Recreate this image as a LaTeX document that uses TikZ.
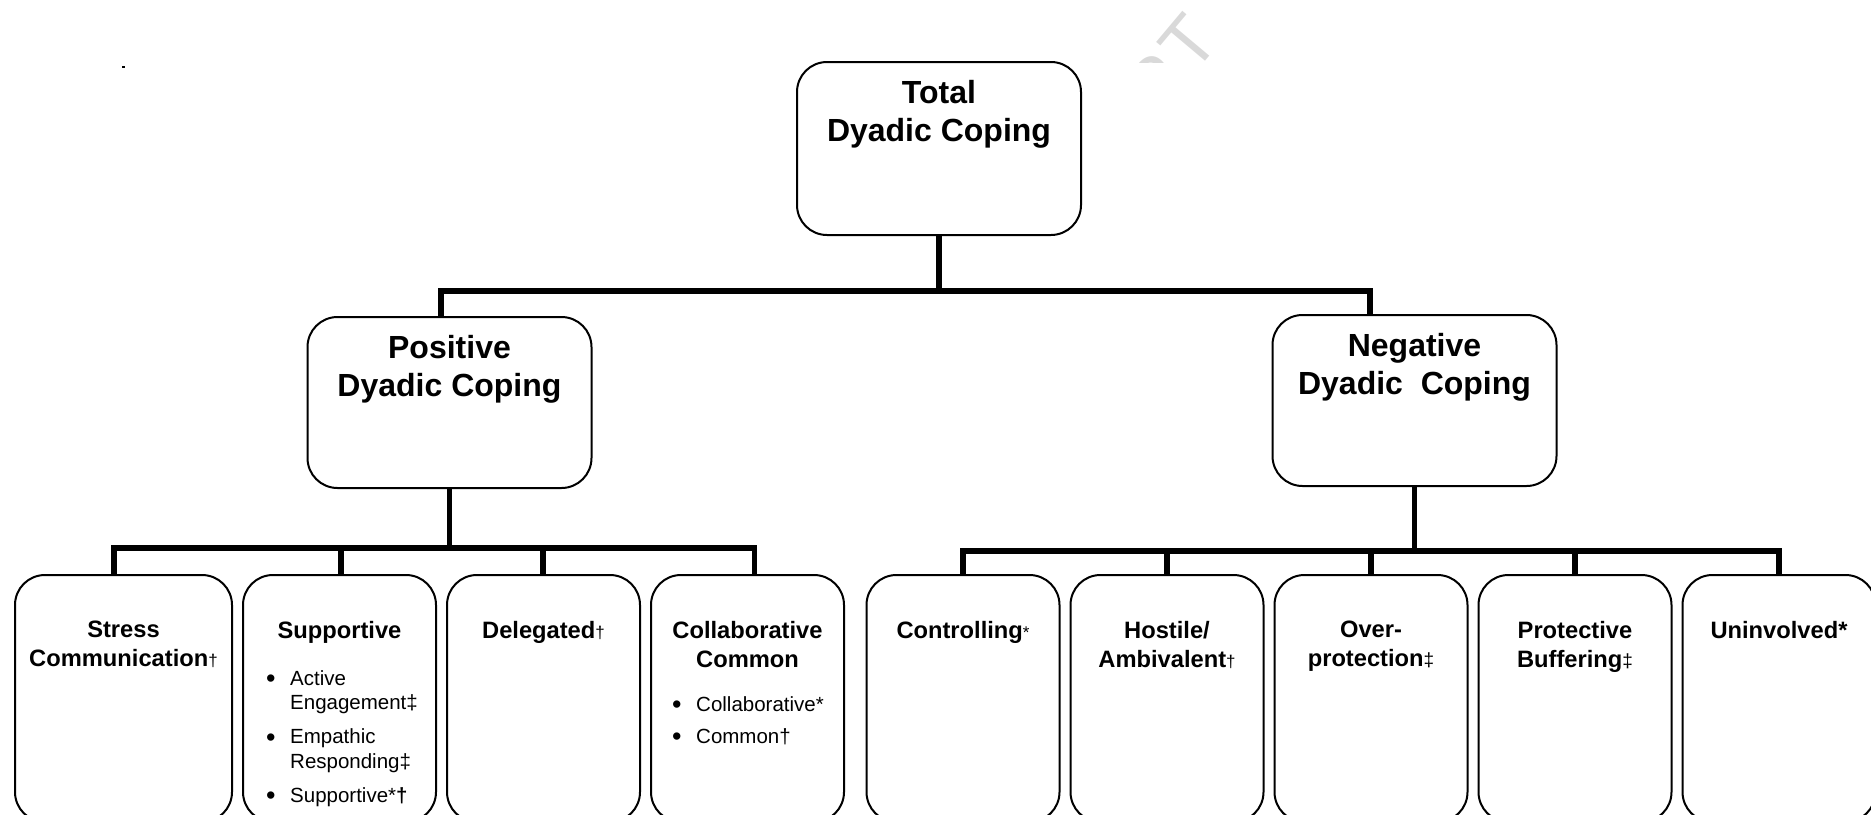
\documentclass[tikz,border=0pt]{standalone}
\usepackage{fontspec}
\setmainfont{Liberation Sans}
\usetikzlibrary{positioning}

\newcommand{\smalldag}{{\mdseries\fontsize{17}{17}\selectfont †}}
\newcommand{\smallddag}{{\mdseries\fontsize{19}{19}\selectfont ‡}}
\newcommand{\smallast}{{\mdseries\fontsize{17}{17}\selectfont *}}
\newcommand{\listdot}{\makebox[24pt][l]{\raisebox{-2.5pt}{\fontsize{27}{27}\selectfont •}}}
\newcommand{\listgap}{\hspace*{24pt}}

\begin{document}
\begin{tikzpicture}[x=1pt,y=-1pt,node distance=9pt,
  box node/.style={rectangle,draw,line width=2pt,rounded corners=30pt,
    minimum width=193pt,minimum height=247pt,inner sep=0pt},
  head node/.style={box node,minimum width=284pt,minimum height=171pt},
  head text/.style={font=\bfseries\fontsize{32}{38}\selectfont,align=center,inner sep=0pt},
  leaf text/.style={font=\bfseries\fontsize{23.7}{29}\selectfont,align=center,inner sep=0pt},
  list text/.style={font=\fontsize{20.5}{24.5}\selectfont,align=left,inner sep=0pt,anchor=north west},
  conn/.style={line width=5.5pt}]

  \useasboundingbox (0,0) rectangle (1871,814);
  \clip (0,0) rectangle (1871,814);

  \begin{scope}
    \clip (1080,0) rectangle (1300,62);
    \node[text=black!15,font=\fontsize{72}{72}\selectfont,rotate=50,
      anchor=base east,inner sep=0pt] (STAMP) at (1222,42) {P\kern5pt T};
  \end{scope}
  \fill (122,66) rectangle (124.5,67.5);

  \node[head node,minimum height=173pt] (TOTAL) at (939,148.5) {};
  \node[head node] (POS) at (449.5,402.5) {};
  \node[head node] (NEG) at (1414.5,400.5) {};

  \node[box node,minimum width=217pt] (STRESS) at (123.5,698.5) {};
  \node[box node,right=of STRESS] (SUPP) {};
  \node[box node,right=of SUPP] (DELEG) {};
  \node[box node,right=of DELEG] (COLLAB) {};
  \node[box node,right=20.5pt of COLLAB] (CTRL) {};
  \node[box node,right=of CTRL] (HOST) {};
  \node[box node,right=of HOST] (OVER) {};
  \node[box node,right=of OVER] (PROT) {};
  \node[box node,right=of PROT] (UNINV) {};

  \node[head text,below=19pt of TOTAL.north] (TOTALTXT) {Total\\Dyadic Coping};
  \node[head text,below=19pt of POS.north] (POSTXT) {Positive\\Dyadic Coping};
  \node[head text,below=19pt of NEG.north] (NEGTXT) {Negative\\Dyadic~~Coping};

  \node[leaf text,below=47pt of STRESS.north] (STRESSTXT) {Stress\\Communication\smalldag};
  \node[leaf text,below=47pt of SUPP.north] (SUPPTXT) {Supportive};
  \node[leaf text,below=47pt of DELEG.north] (DELEGTXT) {Delegated\smalldag};
  \node[leaf text,below=47pt of COLLAB.north] (COLLABTXT) {Collaborative\\Common};
  \node[leaf text,below=47pt of CTRL.north] (CTRLTXT) {Controlling\smallast};
  \node[leaf text,below=47pt of HOST.north] (HOSTTXT) {Hostile/\\Ambivalent\smalldag};
  \node[leaf text,below=47pt of OVER.north] (OVERTXT) {Over-\\protection\smallddag};
  \node[leaf text,below=47pt of PROT.north] (PROTTXT) {Protective\\Buffering\smallddag};
  \node[leaf text,below=47pt of UNINV.north] (UNINVTXT) {Uninvolved*};

  \node[list text] (SUPPLIST) at ([xshift=24pt,yshift=-96pt]SUPP.north west)
    {\listdot Active\\ \listgap Engagement‡\\[9.5pt]
     \listdot Empathic\\ \listgap Responding‡\\[9.5pt]
     \listdot Supportive*\textbf{†}};
  \node[list text] (COLLABLIST) at ([xshift=22pt,yshift=-122pt]COLLAB.north west)
    {\listdot Collaborative*\\[7.5pt]\listdot Common†};

  \coordinate (TOPBAR) at (939,291);
  \coordinate (POSBAR) at (449.5,548);
  \coordinate (NEGBAR) at (1414.5,551);

  \draw[conn] (TOTAL.south) -- (TOPBAR);
  \draw[conn] ([xshift=-8.5pt]POS.north) |- (TOPBAR) -| ([xshift=-44.5pt]NEG.north);
  \draw[conn] (POS.south) -- (POSBAR);
  \draw[conn] ([xshift=-9.5pt]STRESS.north) |- (POSBAR) -| ([xshift=7pt]COLLAB.north);
  \foreach \n/\s in {SUPP/1.5,DELEG/-0.5}
    \draw[conn] ([xshift=\s pt]\n.north) -- ([xshift=\s pt]\n.north |- POSBAR);
  \draw[conn] (NEG.south) -- (NEGBAR);
  \draw[conn] (CTRL.north) |- (NEGBAR) -| (UNINV.north);
  \foreach \n in {HOST,OVER,PROT}
    \draw[conn] (\n.north) -- (\n.north |- NEGBAR);
\end{tikzpicture}
\end{document}
